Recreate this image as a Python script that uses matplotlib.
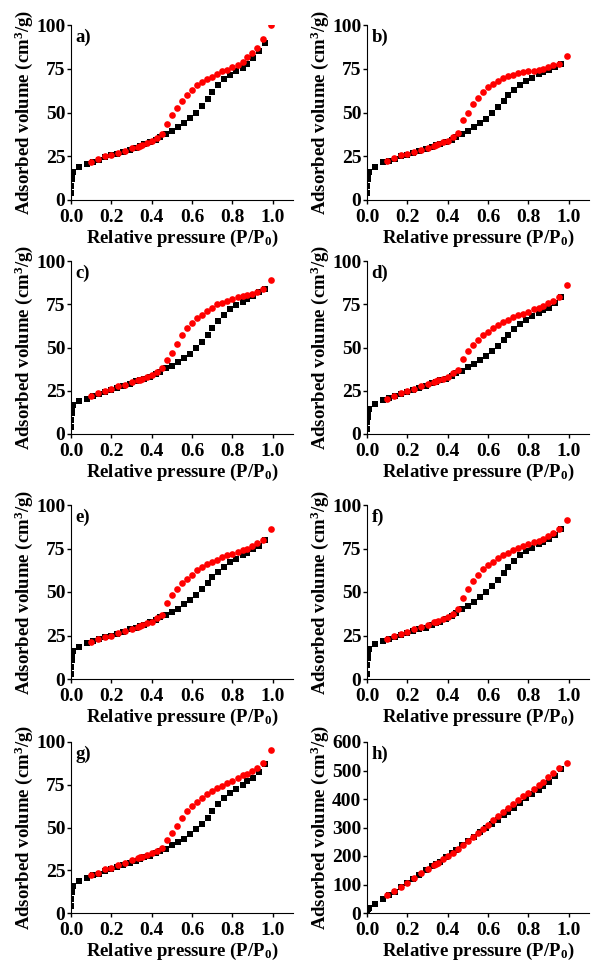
import matplotlib
matplotlib.use('Agg')
import matplotlib.pyplot as plt
import numpy as np

plt.rcParams['font.family'] = ['Liberation Serif', 'DejaVu Serif']
plt.rcParams['font.weight'] = 'bold'
plt.rcParams['mathtext.fontset'] = 'custom'
plt.rcParams['mathtext.rm'] = 'Liberation Serif:bold'
plt.rcParams['mathtext.bf'] = 'Liberation Serif:bold'
plt.rcParams['mathtext.it'] = 'Liberation Serif:bold:italic'

# relative pressure points (adsorption / desorption branches)
p_ads = [0.0005, 0.002, 0.004, 0.006, 0.009, 0.04, 0.08, 0.11, 0.14, 0.17, 0.2, 0.23, 0.26,
         0.29, 0.32, 0.34, 0.36, 0.39, 0.42, 0.44, 0.47, 0.5, 0.53, 0.56, 0.59, 0.62, 0.65,
         0.68, 0.7, 0.73, 0.76, 0.79, 0.82, 0.85, 0.87, 0.9, 0.93, 0.96]
p_des = [0.99, 0.95, 0.92, 0.895, 0.87, 0.85, 0.825, 0.80, 0.775, 0.75, 0.725, 0.70, 0.675,
         0.65, 0.625, 0.60, 0.575, 0.55, 0.525, 0.50, 0.475, 0.45, 0.425, 0.40, 0.375, 0.35,
         0.34, 0.33, 0.30, 0.27, 0.235, 0.20, 0.17, 0.135, 0.10]

ads_a = [4, 8, 12, 15, 16, 19, 20.5, 22, 23, 24.5, 25.5, 26.5, 27.5, 28.5, 30, 31, 32, 33, 34.5,
         36, 37.5, 39.5, 41.5, 44, 47, 50, 53.5, 57.5, 61.5, 65.5, 69, 71.5, 73.5, 75.5, 78, 81, 85, 90]
des_a = [100, 92, 87, 84, 81.5, 79, 77, 76, 74.5, 73.5, 72, 70.5, 69, 67.5, 65.5, 63, 60, 56.5,
         52.5, 48.5, 43.5, 37.5, 35.5, 33.5, 32.5, 31.5, 31, 30.5, 29.5, 28, 27, 26, 25, 23.5, 22]

ads_b = [4, 8, 12, 15, 16, 19, 21.5, 22.5, 23.5, 25, 26, 27, 28, 29, 30.5, 31.5, 32, 33, 34.5,
         36, 37.5, 39.5, 41.5, 44, 46.5, 49.5, 53, 56.5, 60, 63, 65.5, 68, 70, 72, 73, 74.5, 76, 78]
des_b = [82.5, 78, 77, 76, 75, 74.5, 74, 73.5, 73, 72.5, 71.5, 71, 70, 68, 66.5, 64.5, 61.5, 58.5,
         55, 50, 45.5, 38.5, 36, 34, 33, 32, 31.5, 31, 30, 28.5, 27.5, 26.5, 25.5, 24, 22.5]

ads_c = [4, 8, 12, 15, 16.5, 19, 20.5, 22, 23, 24.5, 25.5, 26.5, 28, 29, 30.5, 31, 32, 33, 34.5,
         36, 38, 39.5, 41.5, 44, 46.5, 49.5, 53, 57, 61.5, 65.5, 69, 72, 74.5, 76.5, 78, 80, 82, 84]
des_c = [89, 84, 82, 81, 80.5, 80, 79, 78, 77, 76, 75, 73, 71, 69, 67, 64, 61, 57, 52, 47, 43,
         38, 36, 34, 33, 32, 31.5, 31, 30, 28.5, 27.5, 26, 25, 23.5, 22]

ads_d = [3, 7, 10, 13, 14.5, 17.5, 19.5, 21, 22, 23, 24.5, 25.5, 26.5, 28, 29.5, 30, 31, 32, 33.5,
         35, 36.5, 38.5, 40.5, 42.5, 45, 48, 51, 54.5, 57.5, 60.5, 63.5, 66, 68, 70, 71.5, 73, 75.5, 79]
des_d = [86, 79, 77, 75.5, 74, 73, 72, 70.5, 69.5, 69, 67.5, 66, 64.5, 63, 61, 59, 57, 54.5, 51.5,
         48, 43.5, 37, 35, 33, 32, 31, 30.5, 30, 29, 27.5, 26, 25, 23.5, 22, 20.5]

ads_e = [3, 7, 11, 14, 16, 18.5, 20.5, 22, 23, 24, 25, 26, 27, 28.5, 29.5, 30.5, 31, 32.5, 34,
         35.5, 37, 38.5, 40.5, 43, 45.5, 48.5, 51.5, 55, 58.5, 61.5, 64.5, 67, 69, 71, 72.5, 74.5, 76.5, 80]
des_e = [86, 80, 78, 76.5, 75, 74, 73, 72, 71, 70, 68.5, 67.5, 66, 64.5, 62.5, 60, 57.5, 55, 51.5,
         48, 43.5, 37, 35, 33, 32, 31, 30.5, 30, 29, 27.5, 26.5, 25, 24, 23, 21.5]

ads_f = [3, 8, 12, 15, 17, 20, 22, 23, 24, 25.5, 26.5, 27.5, 28.5, 29.5, 31, 32, 33, 34.5, 36,
         38, 40, 42, 44.5, 47, 50, 53.5, 57, 61, 64.5, 68, 71, 73.5, 75.5, 77.5, 79, 80.5, 83, 86]
des_f = [91.5, 86, 84, 82, 80.5, 79.5, 78.5, 77.5, 76.5, 75.5, 74, 72.5, 71, 69.5, 67.5, 65.5, 63,
         60, 56.5, 52, 46.5, 40, 37.5, 35.5, 34.5, 33.5, 33, 32.5, 31, 30, 28.5, 27, 26, 24.5, 23]

ads_g = [4, 8, 12, 14, 15.5, 19, 20.5, 22, 23, 24.5, 25.5, 27, 28, 29.5, 30.5, 31.5, 32.5, 33.5,
         35, 36.5, 37.5, 39.5, 41.5, 43.5, 46, 49, 52, 55.5, 59.5, 63.5, 67, 70, 72.5, 75, 77, 79, 82.5, 87]
des_g = [95.5, 87.5, 85, 83, 81.5, 80.5, 79, 77, 76, 74.5, 73, 71.5, 69.5, 67.5, 65, 62.5, 59.5,
         55.5, 51, 47, 42.5, 38, 36.5, 35, 34, 33, 32.5, 32, 31, 29.5, 28, 26.5, 25.5, 23.5, 22]

ads_h = [10, 12, 14, 15, 16, 32, 48, 62, 75, 90, 105, 120, 135, 150, 165, 172, 180, 195, 210,
         222, 237, 252, 267, 283, 298, 312, 328, 343, 355, 370, 387, 402, 418, 433, 445, 460, 480, 505]
des_h = [528, 508, 492, 478, 460, 448, 435, 422, 410, 397, 383, 368, 354, 340, 325, 310, 296, 281,
         267, 252, 239, 225, 212, 200, 188, 176, 172, 168, 154, 140, 123, 107, 92, 76, 62]

labels = ['a)', 'b)', 'c)', 'd)', 'e)', 'f)', 'g)', 'h)']
ads_all = [ads_a, ads_b, ads_c, ads_d, ads_e, ads_f, ads_g, ads_h]
des_all = [des_a, des_b, des_c, des_d, des_e, des_f, des_g, des_h]

W, H = 592, 966
fig = plt.figure(figsize=(W / 100, H / 100), dpi=100)

lefts = [71, 367]
rows = [(25, 200), (261, 434), (505, 679), (742, 913)]
aw = 222

for i in range(8):
    r, c = divmod(i, 2)
    top, bot = rows[r]
    ax = fig.add_axes([lefts[c] / W, 1 - bot / H, aw / W, (bot - top) / H])
    ax.plot(p_ads, ads_all[i], 's', color='black', ms=3.8, mew=0, zorder=2)
    ax.plot(p_des, des_all[i], 'o', color='red', ms=4.8, mew=0, zorder=3)
    ax.set_xlim(0, 1.1)
    ax.set_xticks([0.0, 0.2, 0.4, 0.6, 0.8, 1.0])
    ax.set_xticklabels(['0.0', '0.2', '0.4', '0.6', '0.8', '1.0'])
    if i == 7:
        ax.set_ylim(0, 600)
        ax.set_yticks(range(0, 601, 100))
    else:
        ax.set_ylim(0, 100)
        ax.set_yticks([0, 25, 50, 75, 100])
    ax.spines['top'].set_visible(False)
    ax.spines['right'].set_visible(False)
    ax.tick_params(direction='out', length=3, width=1, labelsize=14)
    ax.tick_params(axis='y', pad=1)
    ax.tick_params(axis='x', pad=3.5)
    for t in ax.get_xticklabels() + ax.get_yticklabels():
        t.set_fontweight('bold')
    ax.set_xlabel('Relative pressure (P/P$_0$)', fontsize=13.5, fontweight='bold', labelpad=1)
    ax.set_ylabel('Adsorbed volume (cm$^3$/g)', fontsize=13.5, fontweight='bold', labelpad=1)
    ax.text(0.02, 0.98, labels[i], transform=ax.transAxes, fontsize=13.5, fontweight='bold',
            va='top', ha='left')

fig.savefig('out.png', dpi=100)
